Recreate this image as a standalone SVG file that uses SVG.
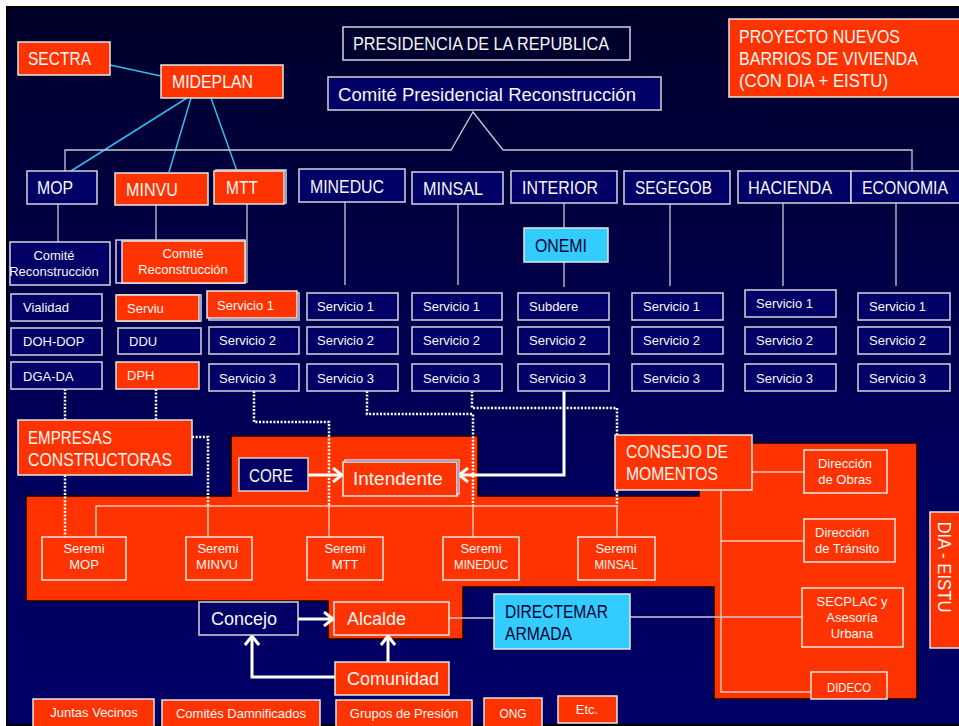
<svg xmlns="http://www.w3.org/2000/svg" width="959" height="726" viewBox="0 0 959 726">
<defs>
<linearGradient id="bg" x1="0" y1="0" x2="0" y2="1">
<stop offset="0" stop-color="#00002a"/>
<stop offset="0.7" stop-color="#000060"/>
<stop offset="1" stop-color="#000066"/>
</linearGradient>
<marker id="ah" viewBox="0 0 12 16" markerWidth="12" markerHeight="16" markerUnits="userSpaceOnUse" refX="10" refY="8" orient="auto">
<path d="M1,1 L10,8 L1,15" fill="none" stroke="#ffffff" stroke-width="3"/>
</marker>
<style>
.r{fill:#ff3300;stroke:#e6e6e6;stroke-width:1.5}
.n{fill:#000066;stroke:#d4d4dc;stroke-width:1.5}
.c{fill:#33ccff;stroke:#e6e6e6;stroke-width:1.5}
.o{fill:none;stroke:#d4d4dc;stroke-width:1.5}
text{font-family:"Liberation Sans",Arial,sans-serif;fill:#f6f6f6}
.big{font-size:18px}
.sm{font-size:13px}
.mid{text-anchor:middle}
.dk{fill:#000033}
.cy{fill:none;stroke:#33bbee;stroke-width:1.5}
.gl{fill:none;stroke:#c8c8d4;stroke-width:1.3}
.pl{fill:none;stroke:#ffc8b0;stroke-width:1.5}
.dt{fill:none;stroke:#ffffff;stroke-width:2.5;stroke-dasharray:2 1.6}
.th{fill:none;stroke:#ffffff;stroke-width:3;marker-end:url(#ah)}
</style>
</defs>
<rect x="0" y="0" width="959" height="726" fill="#ffffff"/>
<rect x="7" y="7" width="953" height="718" fill="url(#bg)" stroke="#000000" stroke-width="2"/>
<path id="red-zone" d="M231,436 H478 V496 H699 V443 H917 V699 H714 V587 H463 V639 H328 V601 H26 V496 H231 Z" fill="#ff3300" stroke="#160000" stroke-width="1.5"/>

<g id="connectors">
<path class="cy" d="M110,65 L161,76 M187,98 L71,171 M191,98 L169,172 M211,98 L237,171"/>
<path class="gl" d="M65,171 V150 H451 L473,112 L503,150 H912 V171"/>
<path class="gl" d="M58,204 V242 M156,205 V240 M247,204 V283 M345,202 V285 M458,204 V285 M564,203 V228 M564,262 V287 M670,204 V286 M783,203 V286 M896,203 V286"/>
<path class="dt" d="M65,389 V420 M65,475 V537 M156,389 V420 M192,437 H208 V506 M254,391 V422 H329 V506 M367,391 V414 H473 V506 M472,391 V408 H617 V506"/>
<path class="pl" d="M96,537 V506 H617 V537 M208,506 V537 M329,506 V537 M473,506 V537"/>
<path class="pl" d="M752,472 H804 M721,491 V692 H811 M721,541 H804"/>
<path class="gl" d="M449,618 H494 M630,617 H802"/>
<path class="th" d="M308,475 H342"/>
<path class="th" d="M564,391 V475 H459"/>
<path class="th" d="M298,619 H333"/>
<path class="th" d="M388,662 V636"/>
<path class="th" d="M335,677 H252 V636"/>
</g>

<g id="presidencia"><rect class="o" x="343" y="27" width="287" height="33"/><text class="big" x="353" y="50" textLength="256" lengthAdjust="spacingAndGlyphs">PRESIDENCIA DE LA REPUBLICA</text></g>
<g id="comite-presidencial"><rect class="n" x="328" y="77" width="333" height="33"/><text class="big" x="338" y="101" textLength="298" lengthAdjust="spacingAndGlyphs">Comité Presidencial Reconstrucción</text></g>
<g id="proyecto"><rect class="r" x="729" y="19" width="240" height="78"/>
<text class="big" x="739" y="43" textLength="161" lengthAdjust="spacingAndGlyphs">PROYECTO NUEVOS</text>
<text class="big" x="739" y="65" textLength="179" lengthAdjust="spacingAndGlyphs">BARRIOS DE VIVIENDA</text>
<text class="big" x="739" y="87" textLength="149" lengthAdjust="spacingAndGlyphs">(CON DIA + EISTU)</text></g>
<g id="sectra"><rect class="r" x="18" y="42" width="92" height="33"/><text class="big" x="28" y="65" textLength="63" lengthAdjust="spacingAndGlyphs">SECTRA</text></g>
<g id="mideplan"><rect class="r" x="161" y="65" width="122" height="33"/><text class="big" x="172" y="88" textLength="81" lengthAdjust="spacingAndGlyphs">MIDEPLAN</text></g>

<g id="mop"><rect class="n" x="27" y="171" width="70" height="33"/><text class="big" x="37" y="194" textLength="36" lengthAdjust="spacingAndGlyphs">MOP</text></g>
<g id="minvu"><rect class="r" x="115" y="173" width="93" height="32"/><text class="big" x="126" y="196" textLength="52" lengthAdjust="spacingAndGlyphs">MINVU</text></g>
<g id="mtt"><rect class="n" x="216" y="170" width="70" height="33"/><rect class="r" x="214" y="171" width="70" height="33"/><text class="big" x="226" y="194" textLength="32" lengthAdjust="spacingAndGlyphs">MTT</text></g>
<g id="mineduc"><rect class="n" x="299" y="169" width="106" height="33"/><text class="big" x="310" y="193" textLength="74" lengthAdjust="spacingAndGlyphs">MINEDUC</text></g>
<g id="minsal"><rect class="n" x="412" y="172" width="91" height="32"/><text class="big" x="423" y="195" textLength="60" lengthAdjust="spacingAndGlyphs">MINSAL</text></g>
<g id="interior"><rect class="n" x="511" y="171" width="106" height="32"/><text class="big" x="522" y="194" textLength="76" lengthAdjust="spacingAndGlyphs">INTERIOR</text></g>
<g id="segegob"><rect class="n" x="624" y="171" width="106" height="33"/><text class="big" x="635" y="194" textLength="77" lengthAdjust="spacingAndGlyphs">SEGEGOB</text></g>
<g id="hacienda"><rect class="n" x="738" y="171" width="113" height="32"/><text class="big" x="748" y="194" textLength="84" lengthAdjust="spacingAndGlyphs">HACIENDA</text></g>
<g id="economia"><rect class="n" x="851" y="171" width="112" height="32"/><text class="big" x="862" y="194" textLength="86" lengthAdjust="spacingAndGlyphs">ECONOMIA</text></g>
<g id="onemi"><rect class="c" x="524" y="228" width="84" height="34"/><text class="big dk" x="535" y="252" textLength="52" lengthAdjust="spacingAndGlyphs">ONEMI</text></g>

<g id="comite-rec-mop"><rect class="n" x="10" y="242" width="100" height="43"/><text class="sm mid" x="54" y="260">Comité</text><text class="sm mid" x="54" y="276">Reconstrucción</text></g>
<g id="comite-rec-minvu"><rect class="n" x="116" y="240" width="129" height="43"/><rect class="r" x="122" y="241" width="123" height="42"/><text class="sm mid" x="183" y="258">Comité</text><text class="sm mid" x="183" y="274">Reconstrucción</text></g>

<g id="vialidad"><rect class="n" x="11" y="294" width="91" height="27"/><text class="sm" x="23" y="312">Vialidad</text></g>
<g id="doh-dop"><rect class="n" x="11" y="328" width="91" height="27"/><text class="sm" x="23" y="346">DOH-DOP</text></g>
<g id="dga-da"><rect class="n" x="11" y="362" width="91" height="27"/><text class="sm" x="23" y="381">DGA-DA</text></g>
<g id="serviu"><rect class="n" x="118" y="295" width="83" height="26"/><rect class="r" x="116" y="295" width="83" height="26"/><text class="sm" x="127" y="313">Serviu</text></g>
<g id="ddu"><rect class="n" x="118" y="328" width="83" height="26"/><text class="sm" x="129" y="346">DDU</text></g>
<g id="dph"><rect class="r" x="116" y="362" width="83" height="27"/><text class="sm" x="127" y="380">DPH</text></g>

<g id="mtt-s1"><rect class="n" x="209" y="293" width="90" height="27"/><rect class="r" x="207" y="291" width="90" height="27"/><text class="sm" x="217" y="310">Servicio 1</text></g>
<g id="mtt-s2"><rect class="n" x="209" y="327" width="90" height="27"/><text class="sm" x="219" y="345">Servicio 2</text></g>
<g id="mtt-s3"><rect class="n" x="209" y="364" width="90" height="27"/><text class="sm" x="219" y="383">Servicio 3</text></g>

<g id="mineduc-s1"><rect class="n" x="307" y="293" width="91" height="27"/><text class="sm" x="317" y="311">Servicio 1</text></g>
<g id="mineduc-s2"><rect class="n" x="307" y="327" width="91" height="27"/><text class="sm" x="317" y="345">Servicio 2</text></g>
<g id="mineduc-s3"><rect class="n" x="307" y="364" width="91" height="27"/><text class="sm" x="317" y="383">Servicio 3</text></g>

<g id="minsal-s1"><rect class="n" x="412" y="293" width="90" height="27"/><text class="sm" x="423" y="311">Servicio 1</text></g>
<g id="minsal-s2"><rect class="n" x="412" y="327" width="90" height="27"/><text class="sm" x="423" y="345">Servicio 2</text></g>
<g id="minsal-s3"><rect class="n" x="412" y="364" width="90" height="27"/><text class="sm" x="423" y="383">Servicio 3</text></g>

<g id="subdere"><rect class="n" x="518" y="293" width="91" height="27"/><text class="sm" x="529" y="311">Subdere</text></g>
<g id="interior-s2"><rect class="n" x="518" y="327" width="91" height="27"/><text class="sm" x="529" y="345">Servicio 2</text></g>
<g id="interior-s3"><rect class="n" x="518" y="364" width="91" height="27"/><text class="sm" x="529" y="383">Servicio 3</text></g>

<g id="segegob-s1"><rect class="n" x="632" y="293" width="91" height="27"/><text class="sm" x="643" y="311">Servicio 1</text></g>
<g id="segegob-s2"><rect class="n" x="632" y="327" width="91" height="27"/><text class="sm" x="643" y="345">Servicio 2</text></g>
<g id="segegob-s3"><rect class="n" x="632" y="364" width="91" height="27"/><text class="sm" x="643" y="383">Servicio 3</text></g>

<g id="hacienda-s1"><rect class="n" x="745" y="290" width="91" height="27"/><text class="sm" x="756" y="308">Servicio 1</text></g>
<g id="hacienda-s2"><rect class="n" x="745" y="327" width="91" height="27"/><text class="sm" x="756" y="345">Servicio 2</text></g>
<g id="hacienda-s3"><rect class="n" x="745" y="364" width="91" height="27"/><text class="sm" x="756" y="383">Servicio 3</text></g>

<g id="economia-s1"><rect class="n" x="858" y="293" width="92" height="27"/><text class="sm" x="869" y="311">Servicio 1</text></g>
<g id="economia-s2"><rect class="n" x="858" y="327" width="92" height="27"/><text class="sm" x="869" y="345">Servicio 2</text></g>
<g id="economia-s3"><rect class="n" x="858" y="364" width="92" height="27"/><text class="sm" x="869" y="383">Servicio 3</text></g>

<g id="empresas"><rect class="r" x="18" y="420" width="174" height="55"/>
<text class="big" x="28" y="444" textLength="84" lengthAdjust="spacingAndGlyphs">EMPRESAS</text>
<text class="big" x="28" y="466" textLength="144" lengthAdjust="spacingAndGlyphs">CONSTRUCTORAS</text></g>
<g id="core"><rect class="n" x="239" y="458" width="69" height="33"/><text x="249" y="482" font-size="19" textLength="44" lengthAdjust="spacingAndGlyphs">CORE</text></g>
<g id="intendente"><rect class="n" x="345" y="460" width="114" height="34"/><rect class="r" x="343" y="462" width="114" height="34"/><text x="353" y="485" font-size="19">Intendente</text></g>
<g id="consejo"><rect class="r" x="615" y="435" width="137" height="55"/>
<text class="big" x="626" y="458" textLength="102" lengthAdjust="spacingAndGlyphs">CONSEJO DE</text>
<text class="big" x="626" y="480" textLength="92" lengthAdjust="spacingAndGlyphs">MOMENTOS</text></g>
<g id="dir-obras"><rect class="r" x="804" y="450" width="83" height="43"/><text class="sm mid" x="845" y="468">Dirección</text><text class="sm mid" x="845" y="484">de Obras</text></g>
<g id="dir-transito"><rect class="r" x="804" y="519" width="91" height="43"/><text class="sm" x="815" y="537">Dirección</text><text class="sm" x="815" y="553">de Tránsito</text></g>
<g id="secplac"><rect class="r" x="802" y="588" width="101" height="59"/><text class="sm mid" x="852" y="606">SECPLAC y</text><text class="sm mid" x="852" y="622">Asesoría</text><text class="sm mid" x="852" y="638">Urbana</text></g>
<g id="dideco"><rect class="r" x="811" y="672" width="76" height="27"/><text class="sm mid" x="849" y="692" textLength="44" lengthAdjust="spacingAndGlyphs">DIDECO</text></g>
<g id="dia-eistu"><rect class="r" x="930" y="512" width="40" height="136"/><text class="big mid" transform="translate(938,567) rotate(90)" textLength="91" lengthAdjust="spacingAndGlyphs">DIA - EISTU</text></g>

<g id="seremi-mop"><rect class="r" x="42" y="537" width="84" height="43"/><text class="sm mid" x="84" y="553">Seremi</text><text class="sm mid" x="84" y="569">MOP</text></g>
<g id="seremi-minvu"><rect class="r" x="186" y="537" width="66" height="43"/><text class="sm mid" x="218" y="553">Seremi</text><text class="sm mid" x="217" y="569">MINVU</text></g>
<g id="seremi-mtt"><rect class="r" x="307" y="537" width="76" height="43"/><text class="sm mid" x="345" y="553">Seremi</text><text class="sm mid" x="345" y="569">MTT</text></g>
<g id="seremi-mineduc"><rect class="r" x="443" y="537" width="76" height="43"/><text class="sm mid" x="481" y="553">Seremi</text><text class="sm mid" x="481" y="569" textLength="54" lengthAdjust="spacingAndGlyphs">MINEDUC</text></g>
<g id="seremi-minsal"><rect class="r" x="578" y="537" width="77" height="43"/><text class="sm mid" x="616" y="553">Seremi</text><text class="sm mid" x="616" y="569" textLength="43" lengthAdjust="spacingAndGlyphs">MINSAL</text></g>

<g id="concejo"><rect class="n" x="199" y="602" width="99" height="33"/><text class="big" x="211" y="625">Concejo</text></g>
<g id="alcalde"><rect class="r" x="334" y="602" width="115" height="33"/><text class="big" x="347" y="625">Alcalde</text></g>
<g id="comunidad"><rect class="r" x="335" y="662" width="114" height="33"/><text class="big" x="347" y="685">Comunidad</text></g>
<g id="directemar"><rect class="c" x="494" y="594" width="136" height="55"/>
<text class="big dk" x="505" y="618" textLength="103" lengthAdjust="spacingAndGlyphs">DIRECTEMAR</text>
<text class="big dk" x="505" y="640" textLength="67" lengthAdjust="spacingAndGlyphs">ARMADA</text></g>

<g id="juntas"><rect class="r" x="33" y="699" width="121" height="28"/><text class="sm mid" x="94" y="717">Juntas Vecinos</text></g>
<g id="comites"><rect class="r" x="162" y="700" width="158" height="27"/><text class="sm mid" x="241" y="718">Comités Damnificados</text></g>
<g id="grupos"><rect class="r" x="336" y="700" width="136" height="27"/><text class="sm mid" x="404" y="718">Grupos de Presión</text></g>
<g id="ong"><rect class="r" x="484" y="698" width="58" height="29"/><text class="sm mid" x="513" y="718" textLength="27" lengthAdjust="spacingAndGlyphs">ONG</text></g>
<g id="etc"><rect class="r" x="558" y="696" width="59" height="27"/><text class="sm mid" x="587" y="714">Etc.</text></g>
</svg>
